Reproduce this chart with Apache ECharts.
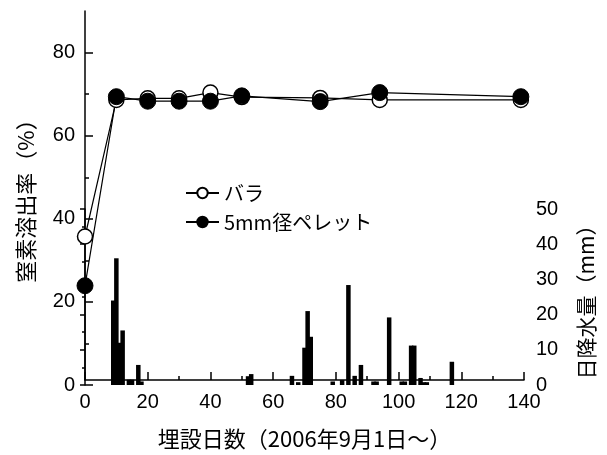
<!DOCTYPE html>
<html>
<head>
<meta charset="utf-8">
<script src="https://cdn.jsdelivr.net/npm/echarts@6/dist/echarts.min.js"></script>
<style>
html,body{margin:0;padding:0;background:#fff;}
#dataView{width:607px;height:455px;}
</style>
</head>
<body>
<div id="dataView"></div>
<script>
// 溶出率 (%)
var days = [0, 10, 20, 30, 40, 50, 75, 94, 139];
var bara = [35, 68.3, 68.7, 68.7, 70.1, 69.0, 68.8, 68.3, 68.3];
var pellet = [23, 69.1, 68.0, 68.0, 68.0, 69.3, 67.9, 70.1, 69.1];

// 日降水量 (mm)
var rainDays = [9, 10, 11, 12, 14, 15, 17, 18, 52, 53, 66, 68, 70, 71, 72, 79, 82, 84, 86, 88,
	92, 93, 97, 101, 102, 104, 105, 107, 108, 109, 117];
var rainMm = [24, 36, 12, 15.5, 1.5, 1.5, 5.7, 1, 2.5, 3.1, 2.6, 0.8, 10.6, 21, 13.7, 1, 1.4, 28.4, 2.6, 5.7,
	1, 1, 19.2, 1, 1, 11.2, 11.2, 2, 0.8, 0.8, 6.6];

var xTicks = [0, 20, 40, 60, 80, 100, 120, 140];
var rightTicks = [0, 10, 20, 30, 40, 50];

var lblFont = 'Liberation Sans';
var jpFont = 'Noto Sans CJK JP';

function pairs(xs, ys) {
	var out = [];
	xs.forEach(function(x, i) {
		out.push([x, ys[i]]);
	});
	return out;
}

var dataViewcharts = echarts.init(document.getElementById('dataView'));
var dataViewoption = {
	animation: false,
	backgroundColor: '#fff',
	grid: [
		{left: 85, right: 83, top: 11, bottom: 70},
		{left: 85, right: 83, top: 209, bottom: 70},
		// 左軸の目盛り用 (0-80)
		{left: 85, right: 83, top: 52.6, bottom: 70}
	],
	legend: {
		orient: 'vertical',
		left: 180,
		top: 178,
		itemWidth: 33,
		itemHeight: 13,
		itemGap: 9,
		textStyle: {fontFamily: jpFont, fontSize: 20, color: '#000'},
		data: ['バラ', '5mm径ペレット']
	},
	xAxis: [
		{
			gridIndex: 0,
			type: 'value',
			min: 0,
			max: 140,
			interval: 20,
			name: '埋設日数（2006年9月1日～）',
			nameLocation: 'middle',
			nameGap: 48,
			nameTextStyle: {fontFamily: jpFont, fontSize: 22, color: '#000'},
			axisLine: {show: true, lineStyle: {color: '#000', width: 1.5}},
			axisTick: {show: true, inside: true, length: 8, lineStyle: {color: '#000', width: 1.5}},
			minorTick: {show: true, splitNumber: 2, length: 4, lineStyle: {color: '#000', width: 1.5}},
			axisLabel: {
				margin: 12, fontFamily: lblFont, fontSize: 20, color: '#000',
				formatter: function(v) { return xTicks.indexOf(v) >= 0 ? v : ''; }
			},
			splitLine: {show: false}
		},
		{gridIndex: 1, type: 'value', min: 0, max: 140, show: false},
		{gridIndex: 2, type: 'value', min: 0, max: 140, show: false}
	],
	yAxis: [
		{
			gridIndex: 0,
			type: 'value',
			min: 0,
			max: 90,
			name: '窒素溶出率（%）',
			nameLocation: 'middle',
			nameGap: 48,
			nameTextStyle: {fontFamily: jpFont, fontSize: 22, color: '#000'},
			axisLine: {show: true, lineStyle: {color: '#000', width: 1.5}},
			axisTick: {show: false},
			axisLabel: {show: false},
			splitLine: {show: false}
		},
		{
			gridIndex: 2,
			type: 'value',
			min: 0,
			max: 80,
			interval: 20,
			axisLine: {show: false},
			axisTick: {show: true, inside: true, length: 8, lineStyle: {color: '#000', width: 1.5}},
			minorTick: {show: true, splitNumber: 2, length: 4, lineStyle: {color: '#000', width: 1.5}},
			axisLabel: {margin: 10, fontFamily: lblFont, fontSize: 20, color: '#000'},
			splitLine: {show: false}
		},
		{
			gridIndex: 1,
			type: 'value',
			position: 'right',
			min: 0,
			max: 50,
			interval: 10,
			name: '日降水量（mm）',
			nameLocation: 'middle',
			nameGap: 52,
			nameTextStyle: {fontFamily: jpFont, fontSize: 21, color: '#000'},
			axisLine: {show: true, lineStyle: {color: '#000', width: 1.5}},
			axisTick: {show: true, inside: true, length: 5, lineStyle: {color: '#000', width: 1.5}},
			minorTick: {show: true, splitNumber: 2, length: 3, lineStyle: {color: '#000', width: 1.5}},
			axisLabel: {
				margin: 12, fontFamily: lblFont, fontSize: 20, color: '#000',
				formatter: function(v) { return rightTicks.indexOf(v) >= 0 ? v : ''; }
			},
			splitLine: {show: false}
		}
	],
	series: [
		{
			name: '日降水量',
			type: 'bar',
			xAxisIndex: 1,
			yAxisIndex: 2,
			barWidth: 4.5,
			itemStyle: {color: '#000'},
			data: pairs(rainDays, rainMm)
		},
		{
			name: 'バラ',
			type: 'line',
			xAxisIndex: 0,
			yAxisIndex: 0,
			symbol: 'circle',
			symbolSize: 15,
			lineStyle: {color: '#000', width: 1.2},
			itemStyle: {color: '#fff', borderColor: '#000', borderWidth: 1.5},
			data: pairs(days, bara)
		},
		{
			name: '5mm径ペレット',
			type: 'line',
			xAxisIndex: 0,
			yAxisIndex: 0,
			symbol: 'circle',
			symbolSize: 16,
			lineStyle: {color: '#000', width: 1.2},
			itemStyle: {color: '#000', borderColor: '#000', borderWidth: 1},
			data: pairs(days, pellet)
		}
	]
};
dataViewcharts.setOption(dataViewoption);
</script>
</body>
</html>
